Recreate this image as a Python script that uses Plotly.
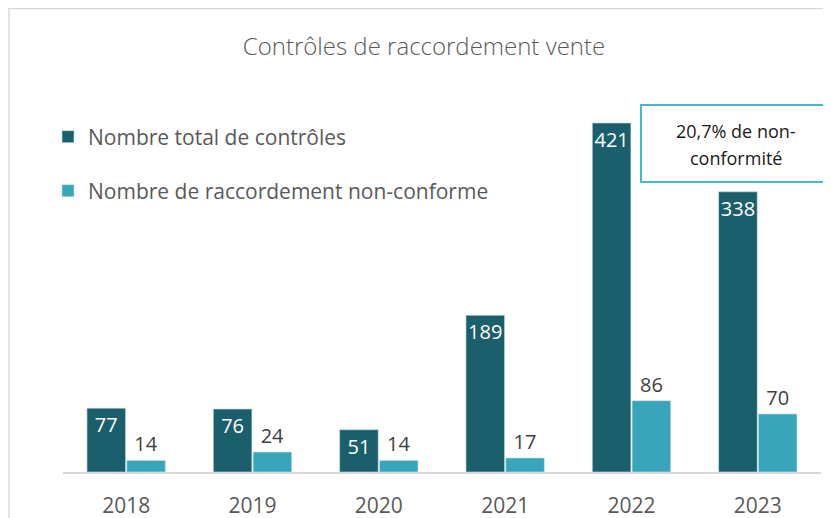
import plotly.graph_objects as go

years = ["2018", "2019", "2020", "2021", "2022", "2023"]
total = [77, 76, 51, 189, 421, 338]
non_conforme = [14, 24, 14, 17, 86, 70]
series_names = ["Nombre total de contrôles", "Nombre de raccordement non-conforme"]
title_text = "Contrôles de raccordement vente"
box_lines = ["20,7% de non-", "conformité"]

dark = "#1b5f6d"
light = "#38a5ba"
grey_text = "#595959"
FONT = "Open Sans"

# the page places the figure 8px from the top-left corner of the window
OFF = 8
W, H = 831 - OFF, 518 - OFF
ml, mr = 63 - OFF, 10
mt = 100 - OFF
mb = H - (472 - OFF)
pw, ph = W - ml - mr, H - mt - mb
ymax = (472 - 100) / 0.829


def px(x):  # screen x -> paper
    return (x - OFF - ml) / pw


def py(y):  # screen y -> paper
    return (H - mb - (y - OFF)) / ph


fig = go.Figure()
fig.add_trace(go.Bar(
    x=years, y=total, name=series_names[0], marker_color=dark,
    marker_line=dict(color="rgba(200,225,230,0.6)", width=1),
    text=[str(v) for v in total], textposition="inside", insidetextanchor="end",
    textangle=0,
    textfont=dict(color="white", size=20, family=FONT), legend="legend",
    cliponaxis=False,
))
fig.add_trace(go.Bar(
    x=years, y=non_conforme, name=series_names[1], marker_color=light,
    marker_line=dict(color="rgba(200,230,235,0.6)", width=1),
    text=[str(v) for v in non_conforme], textposition="outside", textangle=0,
    textfont=dict(color="#404040", size=20, family=FONT), legend="legend2",
    cliponaxis=False,
))

fig.update_layout(
    template="none",
    width=W, height=H,
    margin=dict(l=ml, r=mr, t=mt, b=mb, autoexpand=False),
    paper_bgcolor="white", plot_bgcolor="white",
    barmode="group", bargap=0.37, bargroupgap=0.03,
    title=dict(text=title_text, xref="paper", x=px(424), xanchor="center",
               yref="container", y=1 - (47 - OFF) / H, yanchor="middle",
               font=dict(family=FONT, size=24, color=grey_text, weight=300)),
    uniformtext=dict(minsize=20, mode="show"),
    legend=dict(x=px(48), y=py(137), xanchor="left", yanchor="middle",
                font=dict(family=FONT, size=21, color=grey_text), bgcolor="rgba(0,0,0,0)"),
    legend2=dict(x=px(48), y=py(191), xanchor="left", yanchor="middle",
                 font=dict(family=FONT, size=21, color=grey_text), bgcolor="rgba(0,0,0,0)"),
    xaxis=dict(showline=True, linecolor="#d9d9d9", linewidth=2, ticks="",
               tickfont=dict(family=FONT, size=21, color=grey_text), ticklabelstandoff=14,
               showgrid=False, automargin=False, zeroline=False),
    yaxis=dict(range=[0, ymax], visible=False, showgrid=False, automargin=False, zeroline=False),
    showlegend=True,
)

# outer frame of the chart (partly cut off at right/bottom)
fig.add_shape(type="rect", xref="paper", yref="paper",
              x0=px(9), x1=px(860), y0=py(560), y1=py(8.5),
              line=dict(color="#d9d9d9", width=1.5), layer="below")

# callout box
fig.add_shape(type="rect", xref="paper", yref="paper",
              x0=px(641), x1=px(830), y0=py(182), y1=py(105),
              line=dict(color="#43bcd3", width=2), fillcolor="white")
fig.add_annotation(x=px(735.5), y=py(131), xref="paper", yref="paper", text=box_lines[0],
                   xanchor="center", yanchor="middle",
                   showarrow=False, font=dict(family=FONT, size=18, color="#1a1a1a"))
fig.add_annotation(x=px(735.5), y=py(158), xref="paper", yref="paper", text=box_lines[1],
                   xanchor="center", yanchor="middle",
                   showarrow=False, font=dict(family=FONT, size=18, color="#1a1a1a"))

fig.write_html("out.html")
